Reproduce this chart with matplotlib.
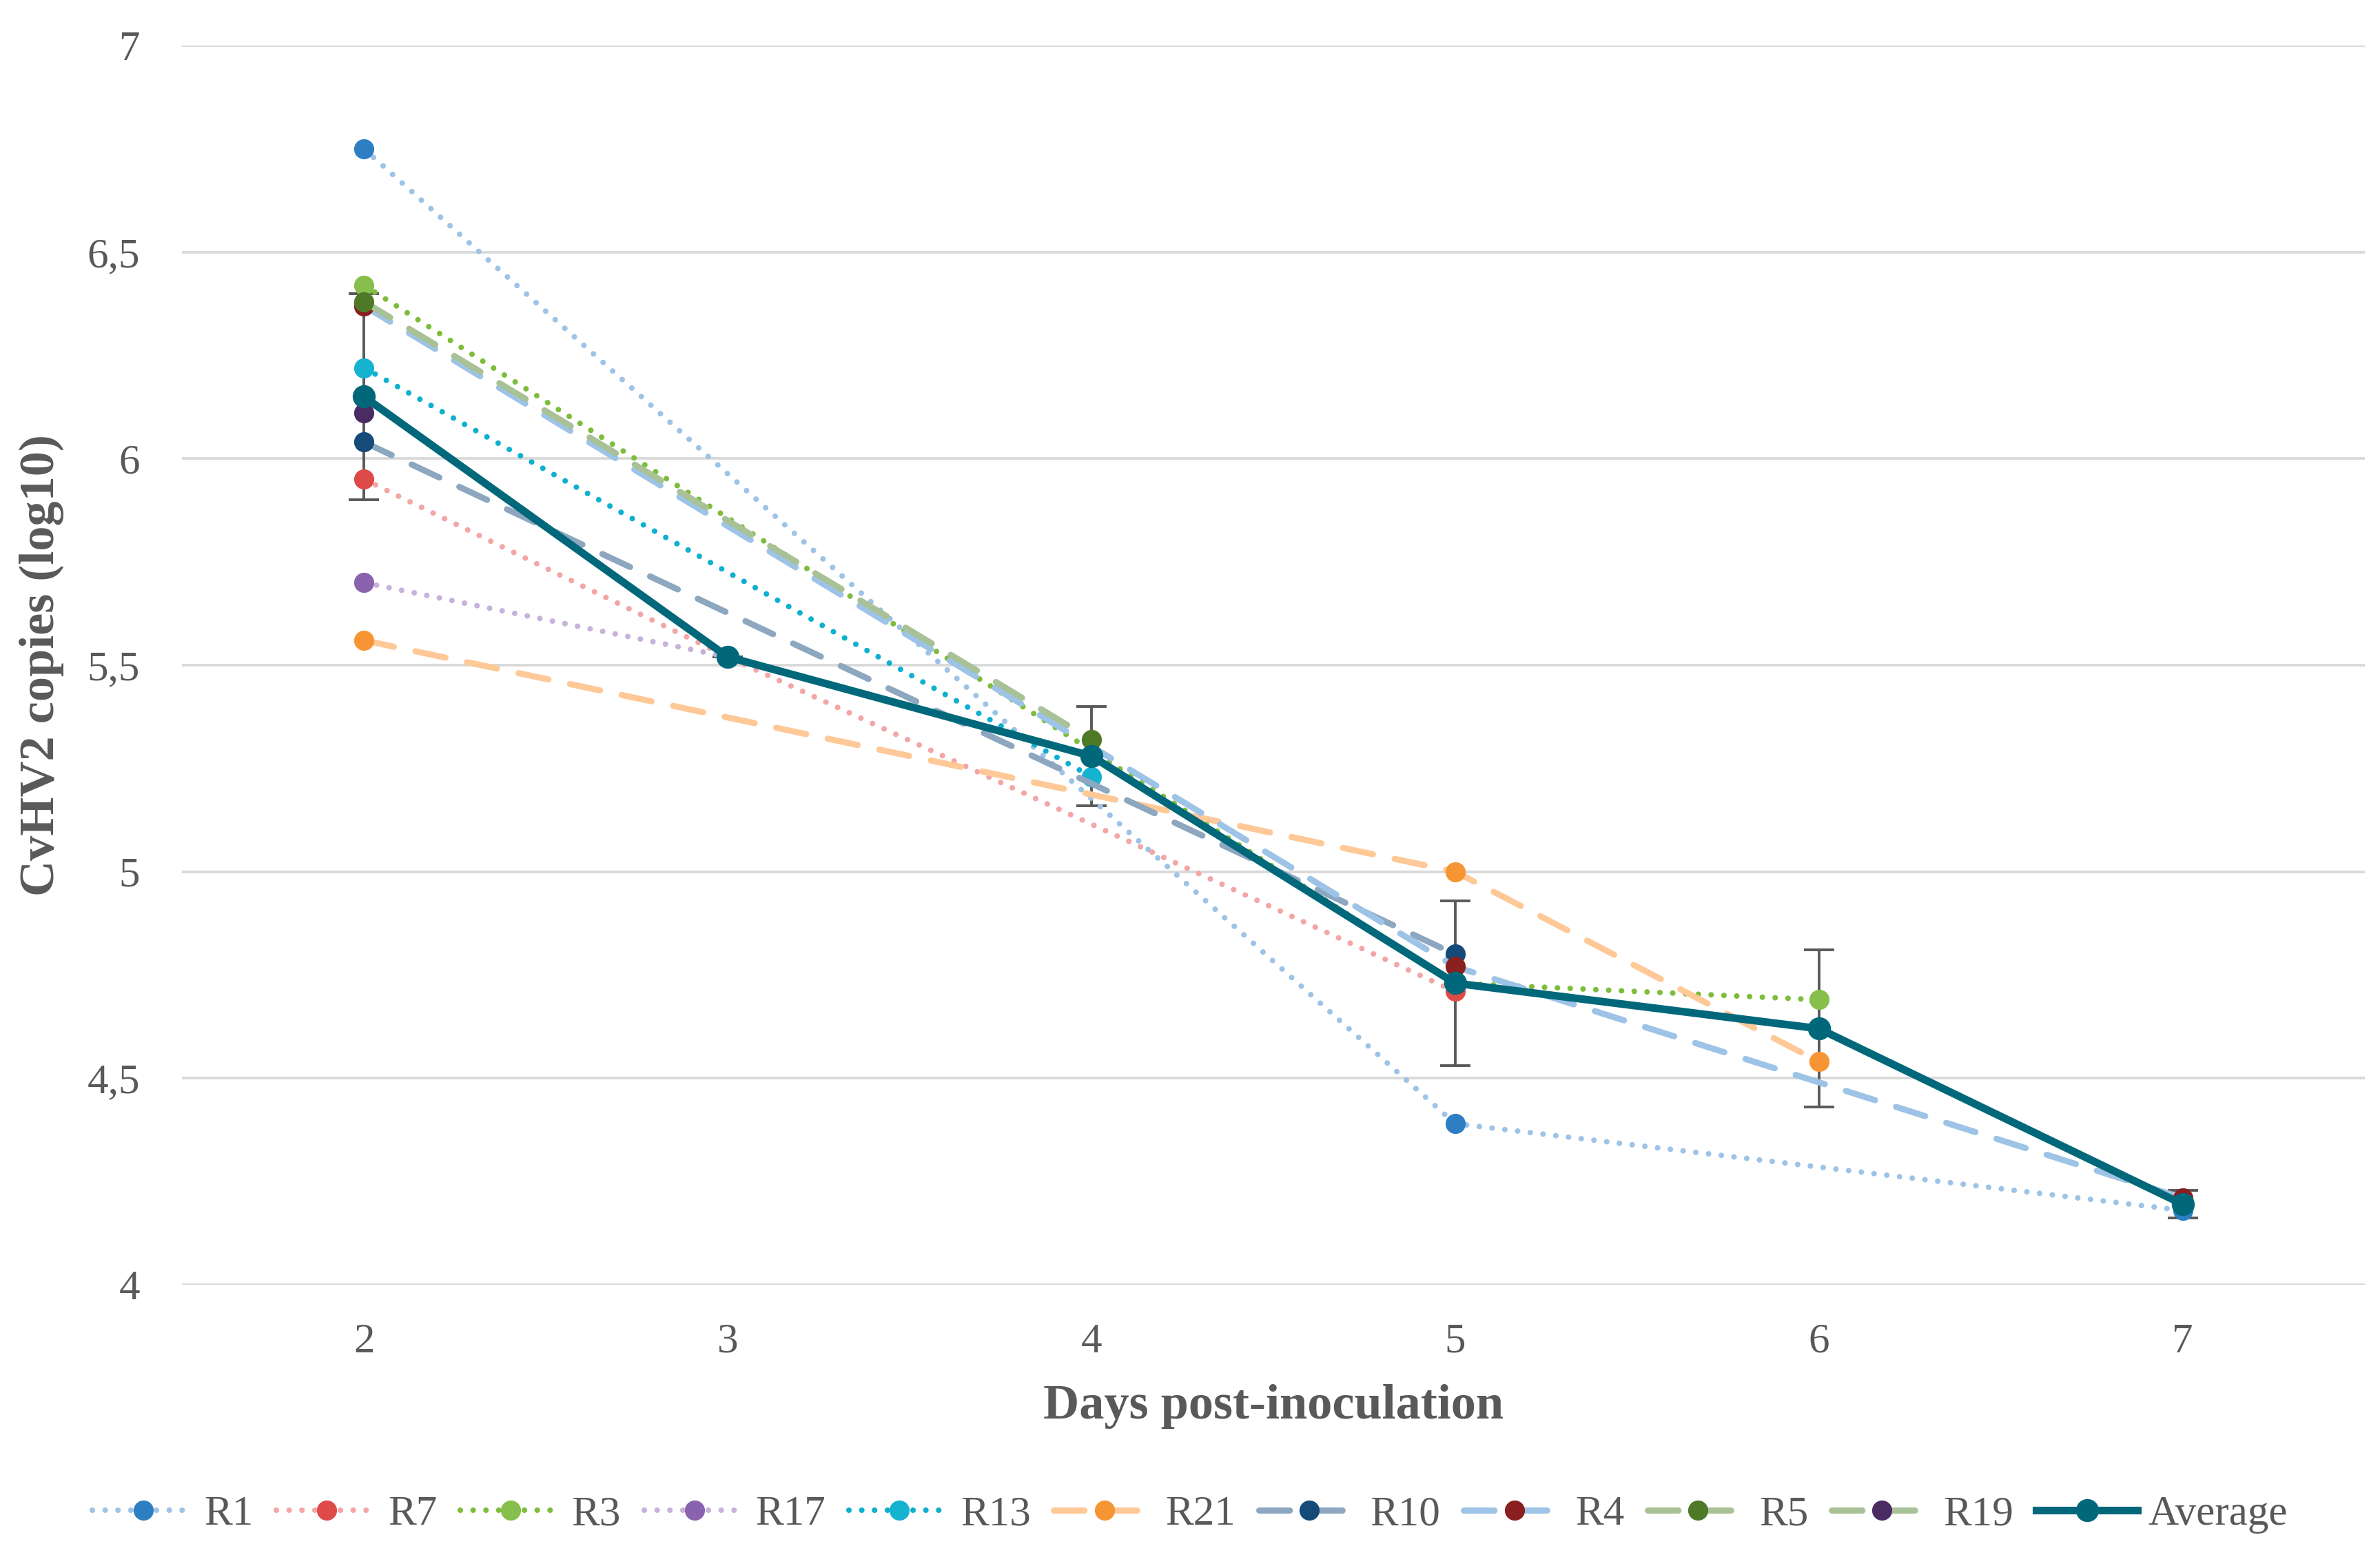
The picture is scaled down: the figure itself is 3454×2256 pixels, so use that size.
import numpy as np
import matplotlib
matplotlib.use("Agg")
import matplotlib.pyplot as plt

nan = np.nan

# dias post-inoculacion
days = [2, 3, 4, 5, 6, 7]

# valores (log10 copias)
r1 = [6.75, nan, nan, 4.39, nan, 4.18]
r7 = [5.95, 5.52, nan, 4.71, nan, nan]
r3 = [6.42, nan, nan, 4.73, 4.69, nan]
r17 = [5.70, 5.52, nan, nan, nan, nan]
r13 = [6.22, nan, 5.23, nan, nan, nan]
r21 = [5.56, nan, nan, 5.00, 4.54, nan]
r10 = [6.04, nan, nan, 4.80, nan, nan]
r4 = [6.37, nan, nan, 4.77, nan, 4.21]
r5 = [6.38, nan, 5.32, nan, nan, nan]
r19 = [6.11, nan, nan, nan, nan, nan]
average = [6.15, 5.52, 5.28, 4.73, 4.62, 4.195]
average_err = [0.25, 0.0, 0.12, 0.20, 0.19, 0.034]

series_names = ["R1", "R7", "R3", "R17", "R13", "R21", "R10", "R4", "R5", "R19"]
series_values = [r1, r7, r3, r17, r13, r21, r10, r4, r5, r19]

# estilo: (color de linea, color de marcador, tipo)
dotted = (0, (0.01, 2.3))
dashed = (0, (5.0, 3.6))
styles = {
    "R1": ("#9dc3e6", "#2e7ec4", dotted),
    "R7": ("#f4a5a5", "#de4a48", dotted),
    "R3": ("#7dbd3c", "#86bf4b", dotted),
    "R17": ("#c6b2da", "#8a63ae", dotted),
    "R13": ("#0eb0cf", "#16b3d1", dotted),
    "R21": ("#ffc897", "#f79433", dashed),
    "R10": ("#8ca7bf", "#144b79", dashed),
    "R4": ("#9dc3e6", "#8a1f1f", dashed),
    "R5": ("#a9c196", "#4e7a28", dashed),
    "R19": ("#a9c196", "#4a2b62", dashed),
}

plt.rcParams["font.family"] = ["Liberation Serif", "DejaVu Serif"]
text_color = "#595959"

fig = plt.figure(figsize=(17.27, 11.28), dpi=200)
ax = fig.add_axes([0.0765, 0.1738, 0.917, 0.7969])

x = np.array(days, dtype=float)

# barras de error del promedio (debajo de todo)
ax.errorbar(x, average, yerr=average_err, fmt="none", ecolor="#595959",
            elinewidth=1.4, capsize=8, capthick=1.4, zorder=2)

handles = []
for k, (name, vals) in enumerate(zip(series_names, series_values)):
    v = np.array(vals, dtype=float)
    ok = ~np.isnan(v)
    lc, mc, ls = styles[name]
    lw = 2.9 if ls is dotted else 3.2
    line, = ax.plot(x[ok], v[ok], color=lc, linestyle=ls, linewidth=lw,
                    dash_capstyle="round", solid_capstyle="round",
                    marker="o", markersize=10, markerfacecolor=mc,
                    markeredgecolor=mc, markeredgewidth=0.5,
                    label=name, zorder=3 + k * 0.1)
    handles.append(line)

avg_line, = ax.plot(x, average, color="#00687a", linewidth=4.0,
                    marker="o", markersize=11, markerfacecolor="#00687a",
                    markeredgecolor="#00687a", label="Average", zorder=5)
handles.append(avg_line)

ax.set_xlim(1.5, 7.5)
ax.set_ylim(4, 7)
ax.set_xticks(days)
ax.set_yticks([4, 4.5, 5, 5.5, 6, 6.5, 7])
ax.set_yticklabels(["4", "4,5", "5", "5,5", "6", "6,5", "7"])
ax.tick_params(axis="both", length=0, labelsize=22, labelcolor=text_color)
ax.tick_params(axis="y", pad=22)
ax.tick_params(axis="x", pad=20)
ax.yaxis.grid(True, color="#d9d9d9", linewidth=1.4)
ax.set_axisbelow(True)
for s in ax.spines.values():
    s.set_visible(False)

ax.set_xlabel("Days post-inoculation", fontsize=26, fontweight="bold",
              color=text_color, labelpad=12)
ax.set_ylabel("CvHV2 copies (log10)", fontsize=26, fontweight="bold",
              color=text_color, labelpad=12)

leg = fig.legend(handles=handles, loc="center", bbox_to_anchor=(0.5, 0.026),
                 ncol=11, frameon=False, fontsize=22, handlelength=2.4,
                 handletextpad=0.25, columnspacing=0.55, numpoints=1)
for t in leg.get_texts():
    t.set_color(text_color)

fig.savefig("out.png", dpi=200)
